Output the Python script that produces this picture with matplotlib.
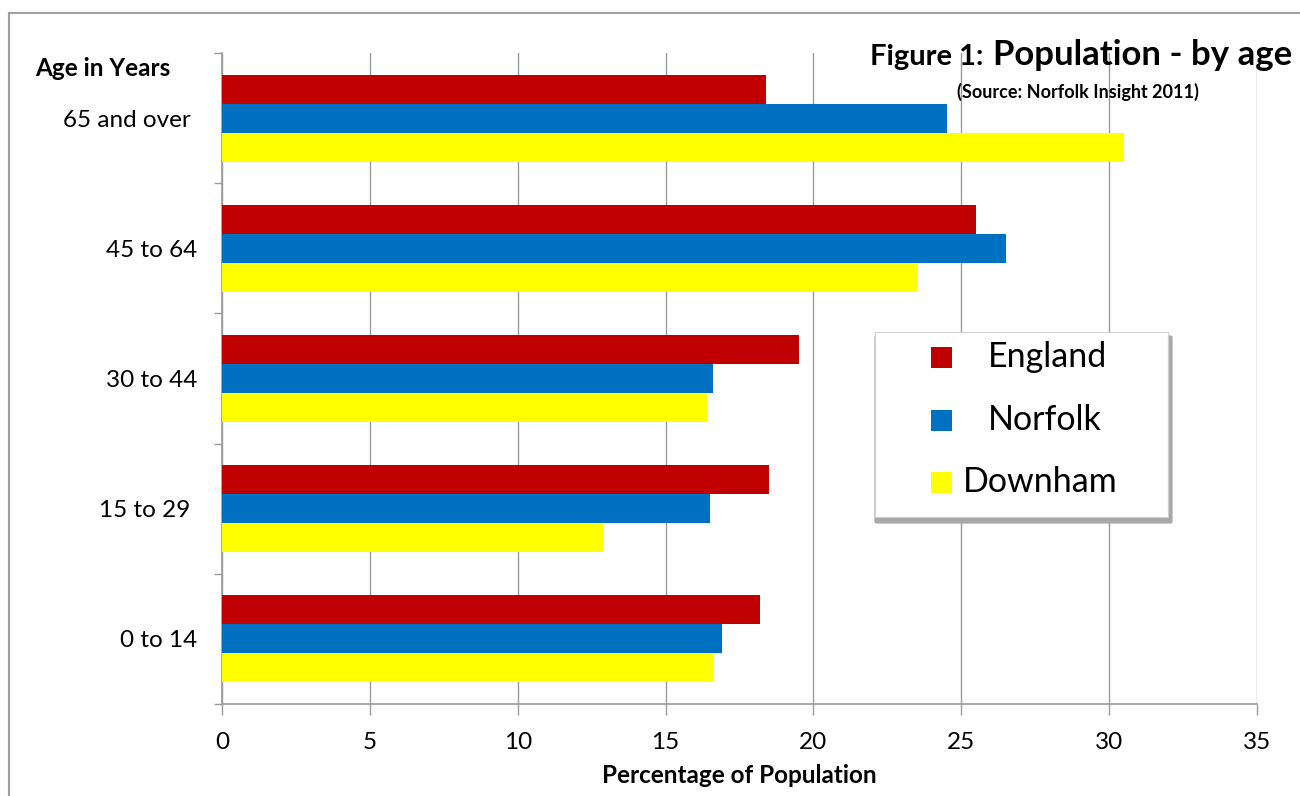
"""Figure 1: Population by age (Norfolk Insight 2011) -- horizontal grouped bars."""
import numpy as np
import matplotlib

matplotlib.use("Agg")
import matplotlib.pyplot as plt
from matplotlib.lines import Line2D
from matplotlib.patches import FancyBboxPatch, Rectangle

plt.rcParams["font.family"] = ["Lato", "DejaVu Sans"]

# --- data (percent of population) ---
age_groups = ["0 to 14", "15 to 29 ", "30 to 44", "45 to 64", "65 and over "]
series = ["England", "Norfolk", "Downham"]
england = [18.2, 18.5, 19.5, 25.5, 18.4]
norfolk = [16.9, 16.5, 16.6, 26.5, 24.5]
downham = [16.6, 12.9, 16.4, 23.5, 30.5]
colors = ["#C00000", "#0070C0", "#FFFF00"]
x_ticks = [0, 5, 10, 15, 20, 25, 30, 35]

GRID = "#9a9a9a"
W, H = 1300, 796

fig = plt.figure(figsize=(W / 100, H / 100), dpi=100)
ax = fig.add_axes([222 / W, 1 - 704 / H, (1257 - 222) / W, (704 - 53) / H])

y = np.arange(len(age_groups))
bh = 0.223
for vals, off, col in zip([england, norfolk, downham], [bh, 0, -bh], colors):
    ax.barh(y + off, vals, height=bh, color=col, zorder=3)

ax.set_xlim(0, 35)
ax.set_ylim(-0.5, len(age_groups) - 0.5)
ax.set_xticks(x_ticks)
ax.set_xticklabels([str(t) for t in x_ticks], fontsize=17.5)
ax.tick_params(axis="x", length=8, width=1, color=GRID, pad=12)

ax.set_yticks(y)
ax.set_yticklabels(age_groups, fontsize=17.5)
ax.set_yticks(np.arange(len(age_groups) + 1) - 0.5, minor=True)
ax.tick_params(axis="y", which="major", length=0, pad=18)
ax.tick_params(axis="y", which="minor", length=6, width=1, color=GRID)

ax.grid(axis="x", color=GRID, linewidth=1, zorder=0)
for s in ["top", "right"]:
    ax.spines[s].set_visible(False)
for s in ["left", "bottom"]:
    ax.spines[s].set_color(GRID)
    ax.spines[s].set_linewidth(1.2)

ax.set_xlabel("Percentage of Population", fontsize=17.5, fontweight="bold", labelpad=8)

# --- titles ---
fig.text(35 / W, 1 - 68 / H, "Age in Years", fontsize=17.5, fontweight="bold",
         ha="left", va="center")
fig.text(983 / W, 1 - 65 / H, "Figure 1:", fontsize=21, fontweight="bold",
         ha="right", va="baseline")
fig.text(993 / W, 1 - 65 / H, "Population - by age", fontsize=25, fontweight="bold",
         ha="left", va="baseline")
fig.text(1078 / W, 1 - 92 / H, "(Source: Norfolk Insight 2011)", fontsize=13,
         fontweight="bold", ha="center", va="center")

# --- legend (manual box with shadow) ---
lx0, ly0, lx1, ly1 = 875, 332, 1168, 517
shadow = FancyBboxPatch(((lx0 + 2) / W, 1 - (ly1 + 5) / H), (lx1 - lx0) / W, (ly1 - ly0) / H,
                        boxstyle="round,pad=0.002", transform=fig.transFigure,
                        facecolor="#a8a8a8", edgecolor="none", zorder=4)
box = Rectangle((lx0 / W, 1 - ly1 / H), (lx1 - lx0) / W, (ly1 - ly0) / H,
                transform=fig.transFigure, facecolor="white", edgecolor="#d0d0d0",
                linewidth=0.8, zorder=5)
fig.patches.extend([shadow, box])
for name, col, yc, tx in zip(series, colors, [357, 420, 482], [988, 988, 963]):
    fig.patches.append(Rectangle((931 / W, 1 - (yc + 10.5) / H), 21 / W, 21 / H,
                                 transform=fig.transFigure, facecolor=col,
                                 edgecolor="none", zorder=6))
    fig.text(tx / W, 1 - yc / H, name, fontsize=24.5, ha="left", va="center", zorder=7)

# --- outer chart border (top and left visible) ---
fig.add_artist(Line2D([9 / W, 1], [1 - 13 / H, 1 - 13 / H], color="#a0a0a0", linewidth=1.5))
fig.add_artist(Line2D([9 / W, 9 / W], [0, 1 - 13 / H], color="#a0a0a0", linewidth=1.5))

fig.savefig("out.png", dpi=100)
